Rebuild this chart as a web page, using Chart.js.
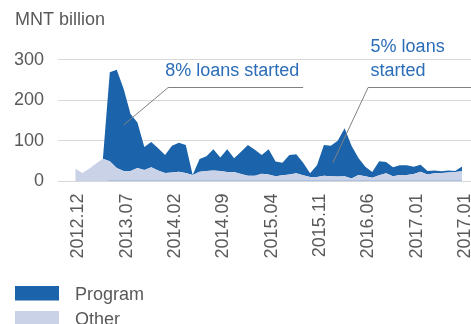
<!DOCTYPE html>
<html>
<head>
<meta charset="utf-8">
<script src="https://cdn.jsdelivr.net/npm/chart.js@4.4.1/dist/chart.umd.min.js"></script>
<style>
  html, body { margin: 0; padding: 0; background: #ffffff; }
  #c { display: block; }
</style>
</head>
<body>
<canvas id="c" width="471" height="324"></canvas>
<script>
// Monthly categories, Dec 2012 – Aug 2017
const months = [
  '2012.12',
  '2013.01','2013.02','2013.03','2013.04','2013.05','2013.06','2013.07','2013.08','2013.09','2013.10','2013.11','2013.12',
  '2014.01','2014.02','2014.03','2014.04','2014.05','2014.06','2014.07','2014.08','2014.09','2014.10','2014.11','2014.12',
  '2015.01','2015.02','2015.03','2015.04','2015.05','2015.06','2015.07','2015.08','2015.09','2015.10','2015.11','2015.12',
  '2016.01','2016.02','2016.03','2016.04','2016.05','2016.06','2016.07','2016.08','2016.09','2016.10','2016.11','2016.12',
  '2017.01','2017.02','2017.03','2017.04','2017.05','2017.06','2017.07','2017.08'
];

// Axis tick labels, one every seven months
const tickLabels = ['2012.12','2013.07','2014.02','2014.09','2015.04','2015.11','2016.06','2017.01','2017.01'];
const tickStep = 7;
const yTicks = [0, 100, 200, 300];

// MNT billion per month
const other = [
  32, 21, 31, 44, 56, 50, 33, 26, 26, 33, 28, 35, 27, 21, 22, 24, 21, 16, 24, 26,
  27, 26, 23, 23, 18, 14, 14, 19, 17, 13, 15, 17, 20, 15, 11, 11, 14, 13, 12, 13,
  7, 16, 13, 9, 15, 20, 13, 16, 16, 18, 24, 17, 20, 21, 22, 23, 25
];
const program = [
  0, 0, 0, 0, 0, 219, 242, 202, 140, 112, 57, 62, 55, 44, 66, 71, 69, 0, 31, 36,
  52, 33, 56, 34, 55, 76, 64, 46, 62, 36, 31, 48, 47, 31, 9, 29, 76, 75, 88, 118,
  81, 42, 23, 14, 35, 28, 22, 24, 24, 18, 17, 9, 7, 4, 5, 3, 12
];

// Callouts: text lines, tip of the leader (month index, value), elbow, end of the rule
const noteLines = [['8% loans started'], ['5% loans', 'started']];
const noteTips = [[7.0, 139], [37.3, 46]];
const noteElbows = [[13.45, 233], [42.4, 233]];
const noteRuleEnds = [33.0, 57.3];

const DARK = '#1b63aa';
const LIGHT = '#cad2e7';
const BASE = '#a8c0e4';
const TEXT = '#595959';
const NOTE = '#2b6db8';
const FONT = '"Liberation Sans", Arial, Helvetica, sans-serif';

// Thin baseline under the months where the programme is running
const baselinePlugin = {
  id: 'programBaseline',
  afterDatasetsDraw(chart) {
    const { ctx, scales: { x, y } } = chart;
    const first = program.findIndex(v => v > 0);
    if (first < 0) return;
    const yy = Math.round(y.getPixelForValue(0)) - 0.5;
    ctx.save();
    ctx.strokeStyle = BASE;
    ctx.lineWidth = 1;
    ctx.beginPath();
    ctx.moveTo(x.getPixelForValue(first - 0.3), yy);
    ctx.lineTo(x.getPixelForValue(program.length - 1), yy);
    ctx.stroke();
    ctx.restore();
  }
};

const calloutPlugin = {
  id: 'callouts',
  afterDatasetsDraw(chart) {
    const { ctx, scales: { x, y } } = chart;
    ctx.save();
    ctx.strokeStyle = '#808080';
    ctx.lineWidth = 1;
    ctx.font = '18px ' + FONT;
    ctx.fillStyle = NOTE;
    ctx.textAlign = 'left';
    ctx.textBaseline = 'alphabetic';
    noteLines.forEach((lines, i) => {
      const tx = x.getPixelForValue(noteTips[i][0]);
      const ty = y.getPixelForValue(noteTips[i][1]);
      const ex = x.getPixelForValue(noteElbows[i][0]);
      const ey = Math.round(y.getPixelForValue(noteElbows[i][1])) + 0.5;
      const rx = x.getPixelForValue(noteRuleEnds[i]);
      ctx.beginPath();
      ctx.moveTo(tx, ty);
      ctx.lineTo(ex, ey);
      ctx.lineTo(rx, ey);
      ctx.stroke();
      const last = lines.length - 1;
      lines.forEach((t, j) => {
        ctx.fillText(t, ex + (i === 0 ? -3 : 2.5), ey - 12 - (last - j) * 23.4);
      });
    });
    ctx.restore();
  }
};

const legendPlugin = {
  id: 'stackLegend',
  afterDraw(chart) {
    const { ctx } = chart;
    const items = chart.data.datasets.slice().reverse();
    ctx.save();
    ctx.font = '18px ' + FONT;
    ctx.textAlign = 'left';
    ctx.textBaseline = 'alphabetic';
    items.forEach((ds, i) => {
      const top = chart.height - 38 + i * 25;
      ctx.fillStyle = ds.backgroundColor;
      ctx.fillRect(15, top, 44, 14.5);
      ctx.fillStyle = TEXT;
      ctx.fillText(ds.label, 75, top + 14);
    });
    ctx.restore();
  }
};

new Chart(document.getElementById('c'), {
  type: 'line',
  data: {
    datasets: [
      {
        label: 'Other',
        data: other.map((v, i) => ({ x: i, y: v })),
        backgroundColor: LIGHT,
        borderColor: LIGHT,
        borderWidth: 0,
        fill: 'origin',
        pointRadius: 0,
        tension: 0
      },
      {
        label: 'Program',
        data: program.map((v, i) => ({ x: i, y: v })),
        backgroundColor: DARK,
        borderColor: DARK,
        borderWidth: 0,
        fill: '-1',
        pointRadius: 0,
        tension: 0
      }
    ]
  },
  options: {
    responsive: false,
    animation: false,
    devicePixelRatio: 1,
    layout: { padding: { left: 15, right: 0, top: 0, bottom: 53.5 } },
    plugins: {
      legend: { display: false },
      tooltip: { enabled: false },
      title: {
        display: true,
        text: 'MNT billion',
        align: 'start',
        color: TEXT,
        font: { family: FONT, size: 18, weight: 'normal' },
        padding: { top: 9, bottom: 29 }
      }
    },
    scales: {
      x: {
        type: 'linear',
        min: -2.5,
        max: 57.3,
        grid: { display: false, drawTicks: false },
        border: { display: false },
        afterBuildTicks(scale) {
          scale.ticks = tickLabels.map((_, i) => ({ value: i * tickStep }));
        },
        afterFit(scale) {
          scale.paddingLeft = 0;
          scale.paddingRight = 0;
        },
        ticks: {
          autoSkip: false,
          minRotation: 90,
          maxRotation: 90,
          padding: 12,
          labelOffset: 3,
          color: TEXT,
          font: { family: FONT, size: 18 },
          callback: (value, index) => tickLabels[index]
        }
      },
      y: {
        stacked: true,
        min: 0,
        max: 300,
        grid: { color: '#d9d9d9', lineWidth: 1, drawTicks: false },
        border: { display: false },
        afterBuildTicks(scale) {
          scale.ticks = yTicks.map(v => ({ value: v }));
        },
        afterFit(scale) {
          scale.width = 43;
          scale.paddingTop = 0;
          scale.paddingBottom = 0;
        },
        ticks: {
          padding: 14,
          color: TEXT,
          font: { family: FONT, size: 18 }
        }
      }
    }
  },
  plugins: [baselinePlugin, calloutPlugin, legendPlugin]
});
</script>
</body>
</html>
